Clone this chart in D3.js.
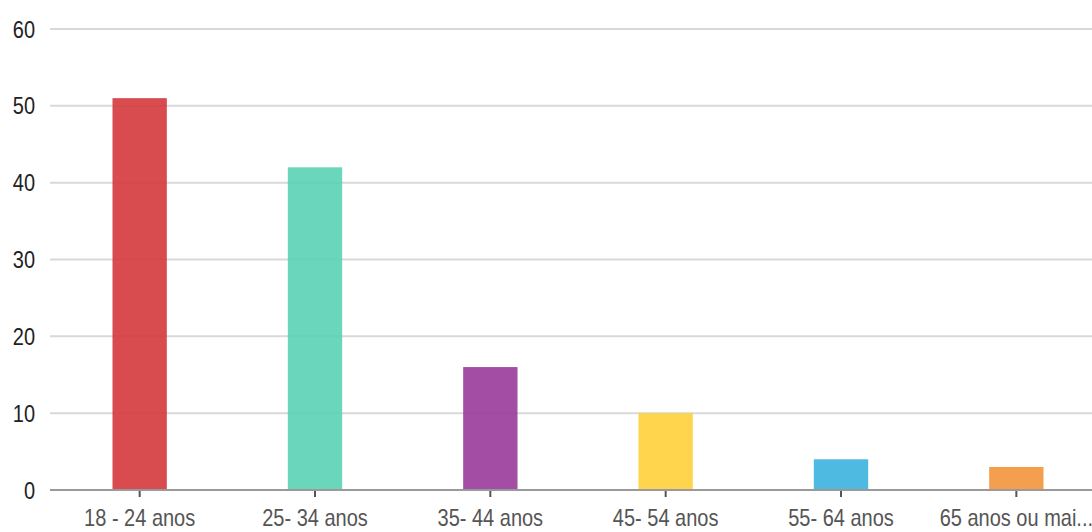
<!DOCTYPE html>
<html><head><meta charset="utf-8">
<script src="https://cdn.jsdelivr.net/npm/d3@7"></script>
<style>body{margin:0;background:#fff;overflow:hidden}svg{display:block}</style>
</head><body>
<svg id="c" width="1092" height="532"></svg>
<script>
const categories = ["18 - 24 anos","25- 34 anos","35- 44 anos","45- 54 anos","55- 64 anos","65 anos ou mai..."];
const values = [51,42,16,10,4,3];
const colors = ["#d4383d","#5ad3b6","#9a3a9b","#fed03a","#3bb2de","#f3953a"];
const yTicks = [0,10,20,30,40,50,60];

const FONT = "'Liberation Sans', Arial, sans-serif";
const svg = d3.select("#c");
const x = d3.scaleBand().domain(categories).range([52,1104]).paddingInner(0.69).paddingOuter(0.345);
const y = d3.scaleLinear().domain([0,60]).range([490,29]);

// gridlines
svg.append("g").selectAll("line").data(yTicks.filter(d=>d>0)).join("line")
  .attr("x1",50).attr("x2",1092).attr("y1",d=>y(d)).attr("y2",d=>y(d))
  .attr("stroke","#d9d9d9").attr("stroke-width",2);

// y labels
const ya = svg.append("g").attr("transform","translate(35,0)")
  .call(d3.axisLeft(y).tickValues(yTicks).tickSize(0).tickPadding(0));
ya.select(".domain").remove();
ya.selectAll("text").attr("font-family",FONT).attr("font-size",20).attr("fill","#222")
  .attr("x",0).attr("dy",null).attr("transform","translate(0,8) scale(1,1.2)");

// bars
svg.append("g").selectAll("rect").data(values).join("rect")
  .attr("x",(d,i)=>x(categories[i]))
  .attr("width",x.bandwidth())
  .attr("y",d=>y(d)).attr("height",d=>y(0)-y(d))
  .attr("fill",(d,i)=>colors[i]).attr("fill-opacity",0.9);

// x axis
const xa = svg.append("g").attr("transform","translate(0,490)")
  .call(d3.axisBottom(x).tickSize(7).tickPadding(8).tickSizeOuter(0));
xa.select(".domain").remove();
xa.selectAll(".tick line").attr("stroke","#555").attr("stroke-width",2);
xa.selectAll("text").attr("font-family",FONT).attr("font-size",20).attr("fill","#555")
  .attr("y",0).attr("dy",null).attr("transform","translate(0,36) scale(1,1.2)");
svg.append("line").attr("x1",50).attr("x2",1092).attr("y1",490).attr("y2",490)
  .attr("stroke","#9a9a9a").attr("stroke-width",2);
</script>
</body></html>
